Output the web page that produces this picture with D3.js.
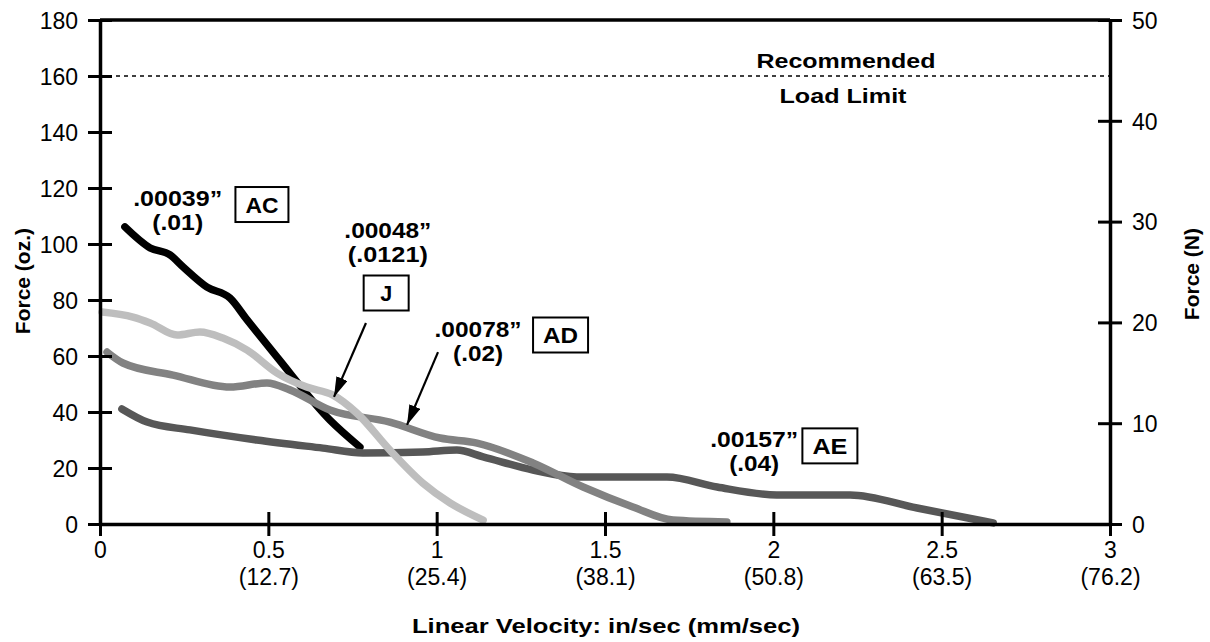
<!DOCTYPE html>
<html>
<head>
<meta charset="utf-8">
<script src="https://cdn.jsdelivr.net/npm/d3@7"></script>
<style>
  html, body { margin: 0; padding: 0; background: #fff; }
  svg { display: block; font-family: "Liberation Sans", Arial, Helvetica, sans-serif; }
</style>
</head>
<body>
<svg id="chart" width="1210" height="642"></svg>
<script>
// Force vs. linear velocity for four step sizes (in/sec, oz)
const acVel = [0.074, 0.149, 0.208, 0.247, 0.318, 0.386, 0.437, 0.526, 0.683, 0.772];
const acForce = [106.1, 98.6, 96.1, 91.8, 84.6, 80.7, 72.9, 59.6, 37.1, 27.5];

const jVel = [0.006, 0.098, 0.149, 0.229, 0.297, 0.365, 0.437, 0.526, 0.614, 0.691, 0.763, 0.861, 0.959, 1.04, 1.138];
const jForce = [75.7, 73.9, 71.8, 67.5, 68.6, 66.4, 62.1, 53.9, 48.9, 46.1, 39.6, 26.4, 14.6, 7.5, 1.4];

const adVel = [0.021, 0.068, 0.217, 0.386, 0.496, 0.564, 0.683, 0.861, 1.01, 1.12, 1.286, 1.435, 1.583, 1.702, 1.862];
const adForce = [61.4, 57.5, 53.2, 48.9, 50.4, 47.9, 40.7, 36.4, 30.7, 28.9, 21.8, 13.2, 6.1, 1.4, 0.7];

const aeVel = [0.065, 0.14, 0.267, 0.466, 0.662, 0.781, 0.959, 1.06, 1.138, 1.286, 1.416, 1.684, 1.833, 2.01, 2.228, 2.427, 2.653];
const aeForce = [41.1, 36.4, 33.6, 30.0, 27.1, 25.4, 25.7, 26.4, 24.0, 19.3, 16.8, 16.8, 13.2, 10.4, 10.4, 5.7, 0.4];

const xTicks = [0, 0.5, 1, 1.5, 2, 2.5, 3];
const xTickLabels = ["0", "0.5", "1", "1.5", "2", "2.5", "3"];
const xTickMetric = ["", "(12.7)", "(25.4)", "(38.1)", "(50.8)", "(63.5)", "(76.2)"];
const yTicksOz = [0, 20, 40, 60, 80, 100, 120, 140, 160, 180];
const yTicksN = [0, 10, 20, 30, 40, 50];
const loadLimit = 160;

const svg = d3.select("#chart");
const plotLeft = 100, plotRight = 1110, plotTop = 20, plotBottom = 524;

const x = d3.scaleLinear().domain([0, 3]).range([plotLeft, plotRight]);
const y = d3.scaleLinear().domain([0, 180]).range([plotBottom, plotTop]);
const yN = d3.scaleLinear().domain([0, 50]).range([plotBottom, plotTop]);

// bold label helper; width sets a fixed rendered length
function boldText(px, py, str, size, width) {
  const t = svg.append("text").attr("x", px).attr("y", py)
    .attr("text-anchor", "middle").attr("font-weight", "bold")
    .attr("font-size", size).attr("fill", "#000").text(str);
  if (width) t.attr("textLength", width).attr("lengthAdjust", "spacingAndGlyphs");
  return t;
}

// recommended load limit
svg.append("line")
  .attr("x1", x(0)).attr("x2", x(3))
  .attr("y1", y(loadLimit)).attr("y2", y(loadLimit))
  .attr("stroke", "#000").attr("stroke-width", 1.6)
  .attr("stroke-dasharray", "4,4");
boldText(846, 68, "Recommended", 21, 179);
boldText(843, 103, "Load Limit", 21, 127);

// curves
const series = [
  { vel: acVel, force: acForce, color: "#000000" },
  { vel: aeVel, force: aeForce, color: "#575757" },
  { vel: adVel, force: adForce, color: "#828282" },
  { vel: jVel, force: jForce, color: "#bebebe" }
];
const line = d3.line()
  .x(d => x(d[0])).y(d => y(d[1]))
  .curve(d3.curveMonotoneX);

series.forEach(s => {
  svg.append("path")
    .datum(s.vel.map((v, i) => [v, s.force[i]]))
    .attr("d", line)
    .attr("fill", "none")
    .attr("stroke", s.color)
    .attr("stroke-width", 7.5)
    .attr("stroke-linecap", "round")
    .attr("stroke-linejoin", "round");
});

// frame: top edge
svg.append("line")
  .attr("x1", plotLeft).attr("x2", plotRight).attr("y1", plotTop).attr("y2", plotTop)
  .attr("stroke", "#000").attr("stroke-width", 3.5);

// axes
function styleAxis(g) {
  g.select(".domain").attr("stroke", "#000").attr("stroke-width", 3.5);
  g.selectAll(".tick line").attr("stroke", "#000").attr("stroke-width", 3);
  g.selectAll(".tick text").attr("fill", "#000").attr("font-size", 23)
    .attr("font-family", "Liberation Sans, Arial, sans-serif");
}

const gLeft = svg.append("g").attr("transform", `translate(${plotLeft},0)`)
  .call(d3.axisLeft(y).tickValues(yTicksOz).tickSize(12).tickSizeOuter(0).tickPadding(10));
styleAxis(gLeft);
gLeft.selectAll(".tick line").attr("x1", 12);
gLeft.selectAll(".tick text").attr("dy", "0.36em");

const gRight = svg.append("g").attr("transform", `translate(${plotRight},0)`)
  .call(d3.axisRight(yN).tickValues(yTicksN).tickSize(12).tickSizeOuter(0).tickPadding(10));
styleAxis(gRight);
gRight.selectAll(".tick line").attr("x1", -12);
gRight.selectAll(".tick text").attr("dy", "0.36em");

const gBottom = svg.append("g").attr("transform", `translate(0,${plotBottom})`)
  .call(d3.axisBottom(x).tickValues(xTicks).tickSize(12).tickSizeOuter(0).tickFormat((d, i) => xTickLabels[i]));
styleAxis(gBottom);
gBottom.selectAll(".tick line").attr("y1", -12);
gBottom.selectAll(".tick text").attr("y", 18).attr("dy", "0.71em");
gBottom.selectAll(".tick").append("text")
  .attr("y", 45).attr("dy", "0.71em")
  .attr("fill", "#000").attr("font-size", 23).attr("text-anchor", "middle")
  .text((d, i) => xTickMetric[i]);

// axis titles
boldText(606, 633, "Linear Velocity: in/sec (mm/sec)", 21, 388);
svg.append("text")
  .attr("transform", "translate(30,228) rotate(-90)")
  .attr("text-anchor", "end").attr("font-weight", "bold").attr("font-size", 21)
  .text("Force (oz.)");
svg.append("text")
  .attr("transform", "translate(1199,228) rotate(-90)")
  .attr("text-anchor", "end").attr("font-weight", "bold").attr("font-size", 21)
  .text("Force (N)");

// step size callouts: two-line size label and a boxed model code
const callouts = [
  { inch: ".00039\u201D", mm: "(.01)", code: "AC", at: [0.2307, 113.6], box: [0.481, 114.1],
    wInch: 89, wMm: 51, wCode: 33 },
  { inch: ".00048\u201D", mm: "(.0121)", code: "J", at: [0.855, 102.1], box: [0.85, 82.5],
    wInch: 87, wMm: 80, wCode: 12 },
  { inch: ".00078\u201D", mm: "(.02)", code: "AD", at: [1.123, 66.8], box: [1.368, 67.5],
    wInch: 87, wMm: 50, wCode: 35 },
  { inch: ".00157\u201D", mm: "(.04)", code: "AE", at: [1.943, 27.5], box: [2.168, 27.9],
    wInch: 88, wMm: 50, wCode: 35 }
];
callouts.forEach(c => {
  const cx = x(c.at[0]), cy = y(c.at[1]);
  boldText(cx, cy, c.inch, 22, c.wInch);
  boldText(cx, cy + 24, c.mm, 22, c.wMm);
  const bx = x(c.box[0]), by = y(c.box[1]);
  const w = Math.max(45, c.wCode + 20), h = 35;
  svg.append("rect")
    .attr("x", bx - w / 2).attr("y", by - h / 2)
    .attr("width", w).attr("height", h)
    .attr("fill", "#fff").attr("stroke", "#000").attr("stroke-width", 2);
  boldText(bx, by + 8, c.code, 22, c.wCode);
});

// pointer arrows
svg.append("defs").append("marker")
  .attr("id", "head").attr("viewBox", "0 0 20 12")
  .attr("refX", 20).attr("refY", 6)
  .attr("markerWidth", 20).attr("markerHeight", 12)
  .attr("markerUnits", "userSpaceOnUse")
  .attr("orient", "auto")
  .append("path").attr("d", "M0,0 L20,6 L0,12 Z").attr("fill", "#000");

const arrows = [
  { from: [0.790, 71.8], to: [0.695, 45.4] },
  { from: [1.004, 61.4], to: [0.912, 35.4] }
];
arrows.forEach(a => {
  svg.append("line")
    .attr("x1", x(a.from[0])).attr("y1", y(a.from[1]))
    .attr("x2", x(a.to[0])).attr("y2", y(a.to[1]))
    .attr("stroke", "#000").attr("stroke-width", 2.2)
    .attr("marker-end", "url(#head)");
});
</script>
</body>
</html>
